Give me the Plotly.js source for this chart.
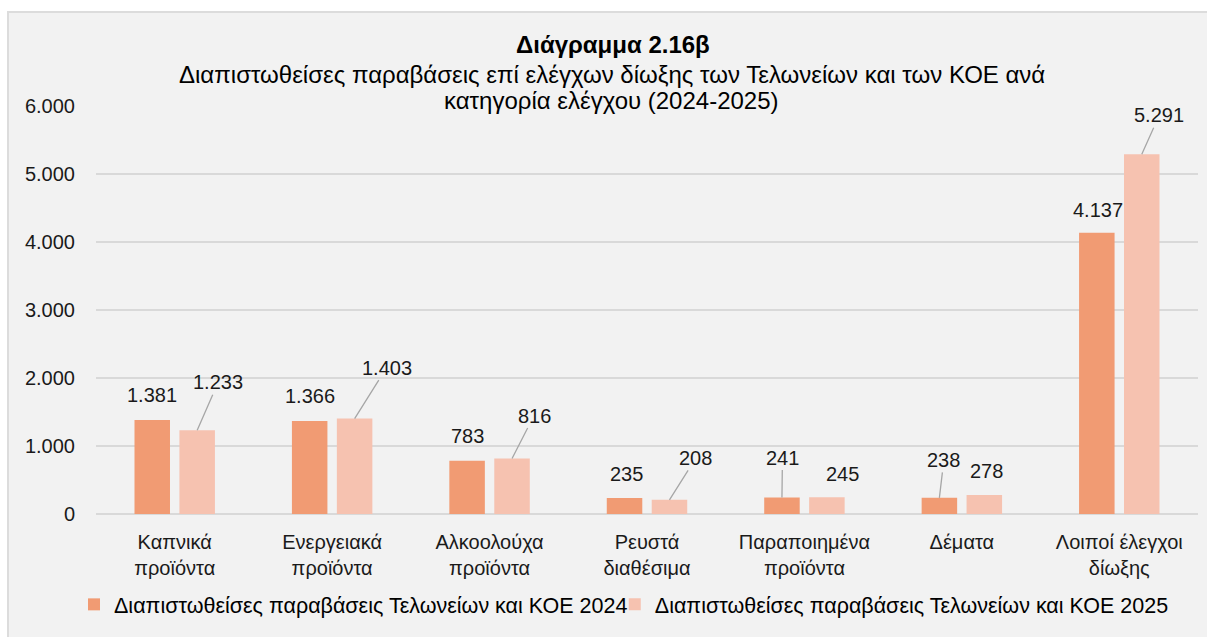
<!DOCTYPE html>
<html>
<head>
<meta charset="utf-8">
<script src="https://cdn.plot.ly/plotly-3.0.1.min.js"></script>
<style>
  html, body { margin: 0; padding: 0; background: #ffffff; overflow: hidden; }
  #chart { position: absolute; left: 7px; top: 11px; border-left: 2px solid #dcdcdc; border-top: 2px solid #dcdcdc; background: #f2f2f2; }
</style>
</head>
<body>
<div id="chart"></div>
<script>
// ---- data ----
const categories = ['Καπνικά<br>προϊόντα', 'Ενεργειακά<br>προϊόντα', 'Αλκοολούχα<br>προϊόντα', 'Ρευστά<br>διαθέσιμα', 'Παραποιημένα<br>προϊόντα', 'Δέματα', 'Λοιποί έλεγχοι<br>δίωξης'];
const values2024 = [1381, 1366, 783, 235, 241, 238, 4137];
const values2025 = [1233, 1403, 816, 208, 245, 278, 5291];
const seriesNames = ['Διαπιστωθείσες παραβάσεις Τελωνείων και ΚΟΕ 2024', 'Διαπιστωθείσες παραβάσεις Τελωνείων και ΚΟΕ 2025'];
const yTickVals = [0, 1000, 2000, 3000, 4000, 5000, 6000];
const titleMain = 'Διάγραμμα 2.16β';
const titleLine1 = 'Διαπιστωθείσες παραβάσεις επί ελέγχων δίωξης των Τελωνείων και των ΚΟΕ ανά';
const titleLine2 = 'κατηγορία ελέγχου (2024-2025)';

// ---- label placement (pixel offsets of the label centre from the bar top; leader flag) ----
const labelPos2024 = [[0, 25, 0], [0, 25, 0], [0, 24.5, 0], [1.5, 24, 0], [0.5, 40, 1], [4.5, 38, 1], [1.5, 23, 0]];
const labelPos2025 = [[21, 48, 1], [32, 51, 1], [22, 43, 1], [26.5, 42, 1], [15.5, 23, 0], [2, 24, 0], [17.5, 39, 1]];

// ---- layout geometry ----
const W = 1200, H = 630;
const margin = {l: 87, r: 10.5, t: 93, b: 128.5};
const bargap = 0.429, bargroupgap = 0.21;
const plotW = W - margin.l - margin.r;
const plotH = H - margin.t - margin.b;
const catW = plotW / categories.length;
const slotOffset = (1 - bargap) * catW / 4;

const fmt = v => String(v).replace(/\B(?=(\d{3})+(?!\d))/g, '.');
const FONT = 'Liberation Sans, Arial, sans-serif';
const colors = ['#f19b73', '#f6c2b0'];
const legendIds = ['legend', 'legend2'];

const traces = [values2024, values2025].map((vals, i) => ({
  type: 'bar', x: categories, y: vals, name: seriesNames[i], legend: legendIds[i],
  marker: {color: colors[i]}, hoverinfo: 'skip'
}));

const annotations = [];
[[values2024, labelPos2024, -1], [values2025, labelPos2025, 1]].forEach(([vals, pos, side]) => {
  vals.forEach((v, k) => {
    const [dx, dy, leader] = pos[k];
    const base = {x: categories[k], y: v, xref: 'x', yref: 'y', text: fmt(v),
      font: {family: FONT, size: 20, color: '#1a1a1a'}, xshift: side * slotOffset};
    if (leader) {
      annotations.push(Object.assign(base, {showarrow: true, arrowhead: 0, arrowwidth: 1.3,
        arrowcolor: '#a6a6a6', ax: dx, ay: -dy, standoff: 0, startstandoff: 0}));
    } else {
      annotations.push(Object.assign(base, {showarrow: false, xanchor: 'center', yanchor: 'middle',
        xshift: side * slotOffset + dx, yshift: dy}));
    }
  });
});

const py = divY => 1 + (margin.t - divY) / plotH;
const px = divX => (divX - margin.l) / plotW;
annotations.push({xref: 'paper', yref: 'paper', x: px(604), y: py(31), text: '<b>' + titleMain + '</b>',
  showarrow: false, xanchor: 'center', yanchor: 'middle', font: {family: FONT, size: 24, color: '#000'}});
annotations.push({xref: 'paper', yref: 'paper', x: px(603), y: py(61), text: titleLine1,
  showarrow: false, xanchor: 'center', yanchor: 'middle', font: {family: FONT, size: 24, color: '#000'}});
annotations.push({xref: 'paper', yref: 'paper', x: px(603), y: py(87), text: titleLine2,
  showarrow: false, xanchor: 'center', yanchor: 'middle', font: {family: FONT, size: 24, color: '#000'}});

const legendStyle = x => ({orientation: 'h', x: px(x), xanchor: 'left', y: py(592), yanchor: 'middle',
  font: {family: FONT, size: 21.5, color: '#000'}, itemwidth: 30, bgcolor: 'rgba(0,0,0,0)'});

const layout = {
  width: W, height: H, margin: margin,
  paper_bgcolor: '#f2f2f2', plot_bgcolor: '#f2f2f2',
  separators: ',.',
  barmode: 'group', bargap: bargap, bargroupgap: bargroupgap,
  font: {family: FONT, size: 20, color: '#1a1a1a'},
  showlegend: true,
  legend: legendStyle(65),
  legend2: legendStyle(606),
  xaxis: {type: 'category', showgrid: false, showline: false, ticks: '', zeroline: false,
    ticklabelstandoff: 14, tickfont: {family: FONT, size: 20, color: '#1a1a1a'}, fixedrange: true},
  yaxis: {range: [0, 6000], tickvals: yTickVals, tickformat: ',d', showgrid: true, gridcolor: '#d9d9d9',
    gridwidth: 1.3, zeroline: true, zerolinecolor: '#d9d9d9', zerolinewidth: 1.3, showline: false,
    ticks: '', ticklabelstandoff: 20, tickfont: {family: FONT, size: 20, color: '#1a1a1a'}, fixedrange: true},
  annotations: annotations
};

Plotly.newPlot('chart', traces, layout, {displayModeBar: false, staticPlot: true});
</script>
</body>
</html>
